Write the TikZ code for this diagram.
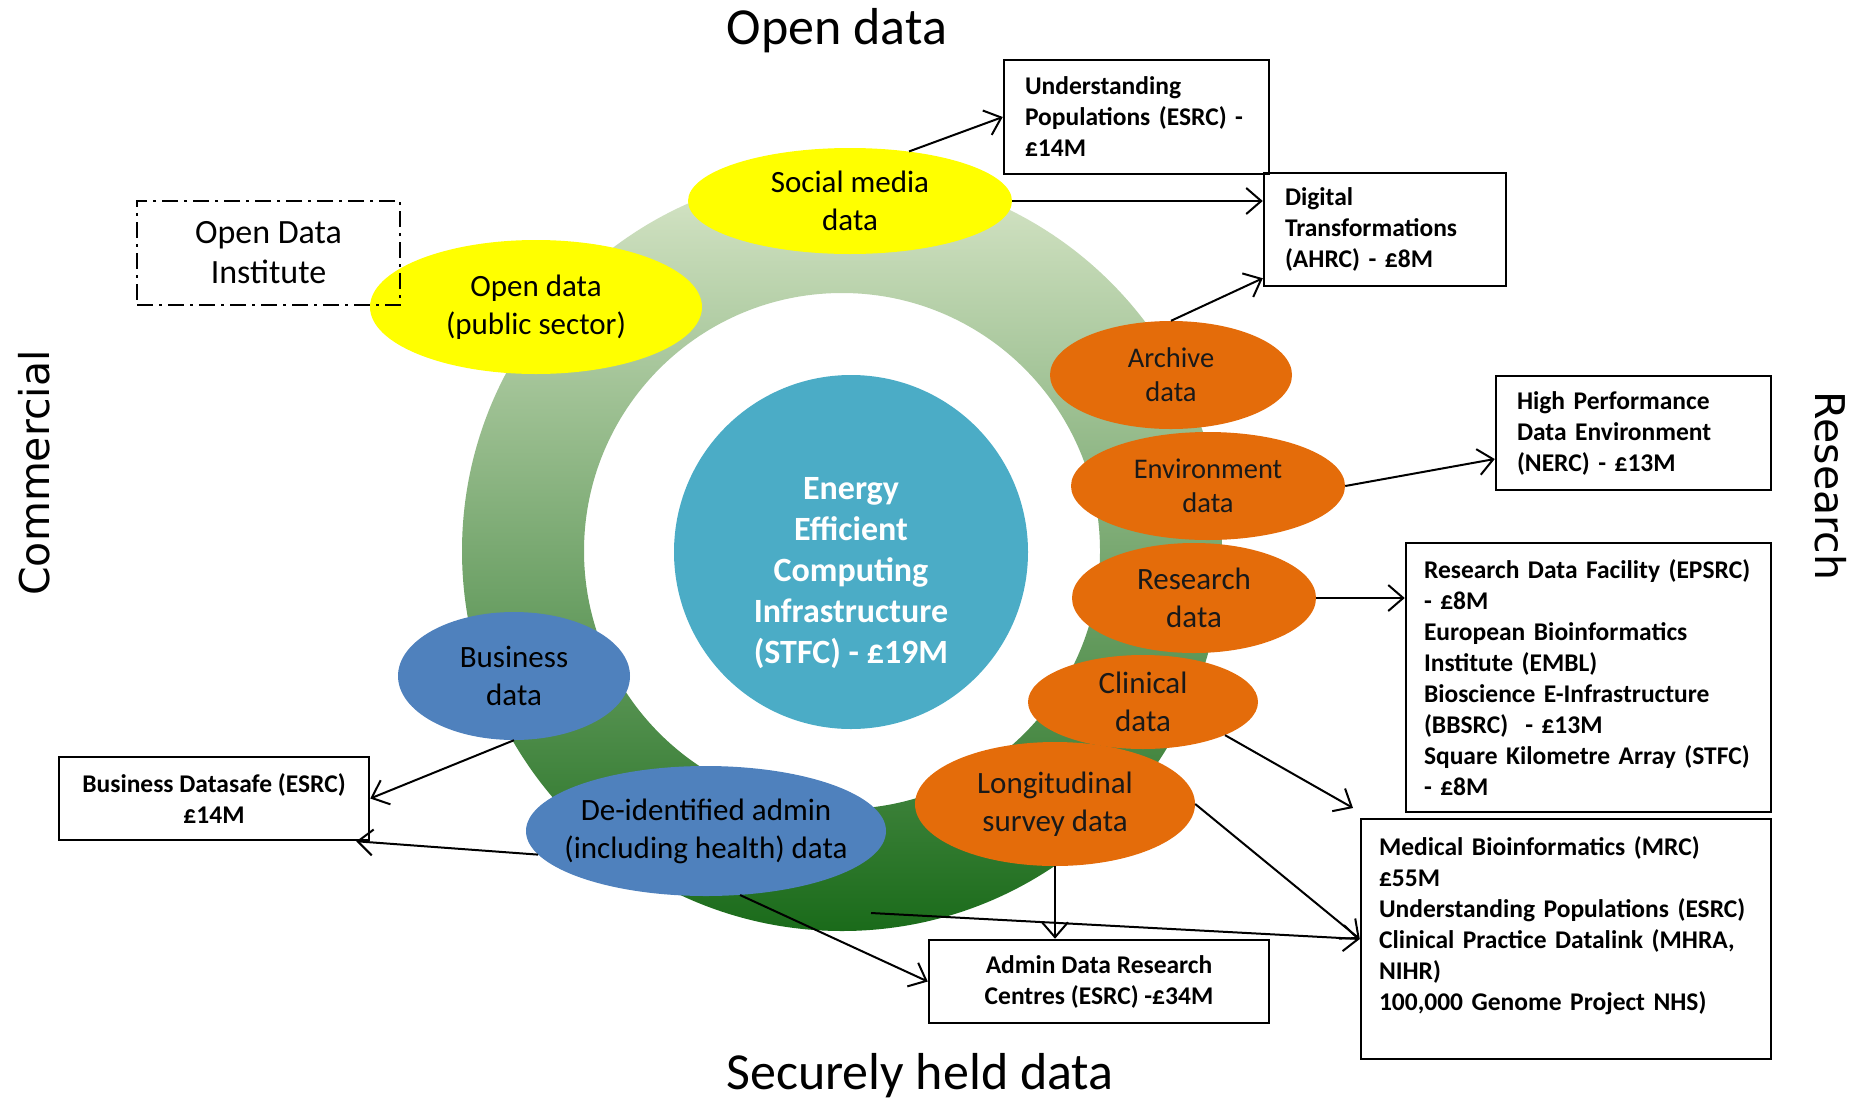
\documentclass[tikz,border=0pt]{standalone}
\usepackage{fontspec}
\setmainfont{Carlito}
\newfontfamily\sidefont{DejaVu Sans}
\usetikzlibrary{shapes.geometric}
\usetikzlibrary{arrows.meta}
\definecolor{hubblue}{HTML}{4BACC6}
\definecolor{openyellow}{HTML}{FFFF00}
\definecolor{resorange}{HTML}{E46C0A}
\definecolor{secblue}{HTML}{4F81BD}
\definecolor{ringtop}{HTML}{D8E6C8}
\definecolor{ringmid}{HTML}{9EBA70}
\definecolor{ringbot}{HTML}{1A6B1A}
\tikzset{
  bubble/.style={
    % The shape:
    ellipse,inner sep=0pt,
    % The text:
    align=center,font=\fontsize{31}{38}\selectfont},
  opendat/.style={bubble,fill=openyellow},
  resdat/.style={bubble,fill=resorange,text=black!90},
  secdat/.style={bubble,fill=secblue}}
\tikzset{
  hub/.style={
    % The shape:
    circle,minimum size=354pt,inner sep=0pt,
    % The filling:
    fill=hubblue},
  hubtext/.style={
    % The text:
    inner sep=0pt,text=white,align=center,
    font=\bfseries\fontsize{34}{41}\selectfont}}
\tikzset{
  fund/.style={
    % The shape:
    rectangle,line width=2.5pt,draw=black,
    % The text:
    inner xsep=21pt,inner ysep=0pt,align=left,
    font=\bfseries\fontsize{25.5}{31}\selectfont},
  inst/.style={
    rectangle,line width=2pt,draw=black,
    dash pattern=on 16pt off 6pt on 3pt off 6pt,
    minimum width=263pt,minimum height=104pt,
    align=center,font=\fontsize{34}{40}\selectfont},
  link/.style={->,line width=2pt,draw=black},
  heading/.style={inner sep=0pt,font=\fontsize{52}{60}\selectfont},
  side/.style={inner sep=0pt,font=\sidefont\fontsize{41}{48}\selectfont}}

\begin{document}
\begin{tikzpicture}[x=1pt,y=-1pt,>={Straight Barb[length=15pt,width=26pt]}]
	\useasboundingbox (0,0) rectangle (1854,1103);
	% The ring
	\shade[top color=ringtop,middle color=ringmid,bottom color=ringbot,even odd rule]
		(842,551) circle[radius=380pt] (842,551) circle[radius=258pt];
	\node[hub] (eeci) at (851,552) {};
	\node[hubtext] (eecilabel) at (851,573) {Energy\\Efficient\\Computing\\Infrastructure\\(STFC) - £19M};
	% Open data
	\node[opendat,minimum width=324pt,minimum height=106pt] (social) at (850,201) {Social media\\data};
	\node[opendat,minimum width=332pt,minimum height=134pt] (pubsec) at (536,307) {Open data\\(public sector)};
	% Research data
	\node[resdat,minimum width=242pt,minimum height=108pt,font=\fontsize{28.5}{34}\selectfont] (archive) at (1171,375) {Archive\\data};
	\node[resdat,minimum width=274pt,minimum height=108pt,font=\fontsize{28.5}{34}\selectfont] (env) at (1208,486) {Environment\\data};
	\node[resdat,minimum width=244pt,minimum height=110pt] (res) at (1194,598) {Research\\data};
	\node[resdat,minimum width=230pt,minimum height=94pt] (clin) at (1143,702) {Clinical\\data};
	\node[resdat,minimum width=280pt,minimum height=124pt] (long) at (1055,804) {Longitudinal\\survey data};
	% Securely held data
	\node[secdat,minimum width=232pt,minimum height=128pt] (bus) at (514,676) {Business\\data};
	\node[secdat,minimum width=360pt,minimum height=130pt] (deid) at (706,831)
		{\makebox[0pt]{De-identified admin}\\\makebox[0pt]{(including health) data}};
	% Funded investments
	\node[fund,text width=223pt,minimum height=114pt] (ups) at (1136.5,117) {Understanding\\Populations (ESRC) -\\£14M};
	\node[fund,text width=200pt,minimum height=113pt] (dt) at (1385,229.5) {Digital\\Transformations\\(AHRC) - £8M};
	\node[fund,text width=233pt,minimum height=114pt] (hpde) at (1633.5,433) {High Performance\\Data Environment\\(NERC) - £13M};
	\node[fund,text width=329pt,inner xsep=18pt,minimum height=269pt] (rdf) at (1588.5,677.5) {Research Data Facility (EPSRC)\\- £8M\\European Bioinformatics\\Institute (EMBL)\\Bioscience E-Infrastructure\\(BBSRC)~ - £13M\\Square Kilometre Array (STFC)\\- £8M};
	\node[fund,text width=374pt,inner xsep=18pt,minimum height=240pt] (med) at (1566,939) {Medical Bioinformatics (MRC)\\£55M\\Understanding Populations (ESRC)\\Clinical Practice Datalink (MHRA,\\NIHR)\\100,000 Genome Project NHS)\\~};
	\node[fund,align=center,minimum width=340pt,minimum height=83pt] (adrc) at (1099,981.5) {Admin Data Research\\Centres (ESRC) -£34M};
	\node[fund,align=center,minimum width=310pt,minimum height=83pt] (bds) at (214,798.5) {Business Datasafe (ESRC)\\£14M};
	\node[inst] (odi) at (268.5,253) {Open Data\\Institute};
	% Headings
	\node[heading,anchor=base] (opn) at (837,44) {Open data};
	\node[heading,anchor=base] (sec) at (920,1089) {Securely held data};
	\node[side,rotate=90] (comm) at (34,473) {Commercial};
	\node[side,rotate=-90] (resr) at (1831,486) {Research};
	% Free ends
	\coordinate (clintip) at (1353,808);
	\coordinate (ringpt) at (871,913);
	% Lines out of the open data
	\draw[link] (social.40) -- (ups.west);
	\draw[link] (social.east) -- (social.east -| dt.west);
	% Lines out of the research data
	\draw[link] (archive.north) -- ([yshift=9pt]dt.south west);
	\draw[link] (env.east) -- ([yshift=-26pt]hpde.west);
	\draw[link] (res.east) -- (res.east -| rdf.west);
	\draw[link] (clin.-22) -- (clintip);
	\draw[link] (long.east) -- (med.west);
	\draw[link] (long.south) -- (long.south |- adrc.north);
	% Lines out of the securely held data
	\draw[link] (ringpt) -- (med.west);
	\draw[link] (deid.-62) -- (adrc.west);
	\draw[link] (deid.188) -- ([xshift=-14pt]bds.south east);
	\draw[link] (bus.south) -- (bds.east);
\end{tikzpicture}
\end{document}
